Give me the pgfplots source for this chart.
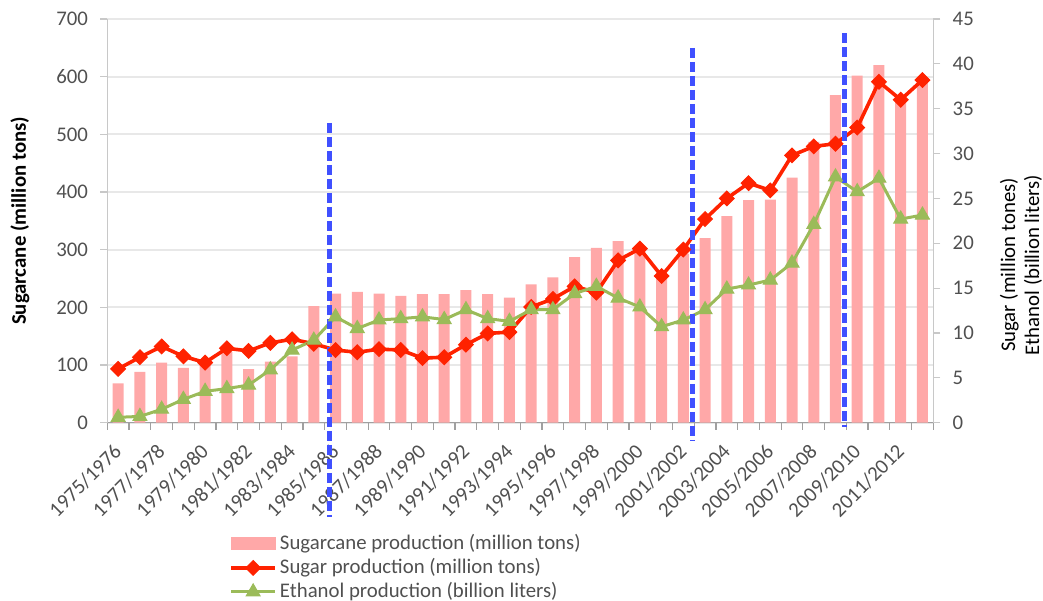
\documentclass[border=0pt]{standalone}
\usepackage{fontspec}
\setmainfont{Carlito}
\usepackage{pgfplots}
\pgfplotsset{compat=1.18}
\usepackage{pgfplotstable}

\definecolor{barpink}{RGB}{255,168,168}
\definecolor{sugarred}{RGB}{255,34,0}
\definecolor{ethgreen}{RGB}{155,187,89}
\definecolor{dashblue}{RGB}{64,80,255}
\definecolor{ticktext}{RGB}{80,80,80}
\definecolor{gridgray}{RGB}{232,232,232}
\definecolor{axisgray}{RGB}{200,200,200}

\pgfplotstableread{
i cane sugar ethanol
0 68 6.0 0.6
1 88 7.3 0.7
2 104 8.5 1.5
3 95 7.4 2.6
4 102 6.7 3.5
5 123 8.3 3.8
6 93 8.0 4.2
7 106 8.9 5.9
8 115 9.3 8.1
9 202 8.8 9.2
10 224 8.1 11.8
11 227 7.85 10.5
12 224 8.2 11.45
13 220 8.1 11.6
14 223 7.2 11.8
15 223 7.3 11.5
16 230 8.7 12.6
17 223 9.95 11.6
18 217 10.1 11.3
19 240 12.9 12.6
20 252 13.8 12.6
21 287 15.2 14.4
22 303 14.5 15.2
23 315 18.1 13.9
24 306 19.4 12.9
25 258 16.35 10.7
26 293 19.3 11.45
27 320 22.7 12.6
28 358 25.0 14.9
29 386 26.7 15.35
30 387 25.9 15.9
31 425 29.8 17.8
32 487 30.8 22.1
33 568 31.1 27.4
34 602 32.9 25.75
35 620 38.0 27.25
36 560 36.0 22.7
37 590 38.2 23.15
}\datatable

\newcommand{\chartfont}{\fontsize{10.4}{12}\selectfont}

\pgfplotsset{
  common/.style={
    at={(53.65pt,88.65pt)}, anchor=south west,
    scale only axis, width=413pt, height=201.85pt,
    xmin=-0.5, xmax=37.5,
    /pgf/number format/assume math mode=true,
    tick label style={font=\chartfont, text=ticktext},
    tick align=outside,
    major tick length=3.5pt, minor tick length=3.5pt,
  },
}

\begin{document}
\begin{tikzpicture}
\useasboundingbox (0pt,0pt) rectangle (521.5pt,300pt);
\begin{axis}[
  common,
  ymin=0, ymax=700,
  axis y line*=left, axis x line*=bottom,
  y axis line style={draw=axisgray, line width=0.6pt},
  x axis line style={draw=axisgray!80!black, line width=0.6pt},
  ytick={0,100,...,700},
  ytick style={draw=axisgray, line width=0.6pt},
  ymajorgrids, grid style={draw=gridgray, line width=0.9pt},
  xtick={0,2,...,36},
  xticklabels={1975/1976,1977/1978,1979/1980,1981/1982,1983/1984,1985/1986,1987/1988,1989/1990,1991/1992,1993/1994,1995/1996,1997/1998,1999/2000,2001/2002,2003/2004,2005/2006,2007/2008,2009/2010,2011/2012},
  minor xtick={-0.5,0.5,...,37.5},
  major x tick style={draw=none},
  minor x tick style={draw=axisgray!80!black, line width=0.6pt},
  xticklabel style={inner sep=0pt, rotate=45, anchor=east},
  xticklabel shift=9pt,
  yticklabel style={inner sep=0pt},
  yticklabel shift=6pt,
  ylabel={\bfseries Sugarcane (million tons)},
  ylabel style={font=\chartfont, at={(axis description cs:-0.1057,0.5)}, anchor=center},
]
\addplot[ybar, bar width=5.5pt, bar shift=0pt, fill=barpink, draw=none] table[x=i, y=cane]{\datatable};
\end{axis}
\begin{axis}[
  common,
  ymin=0, ymax=45,
  axis y line*=right, axis x line=none,
  y axis line style={draw=axisgray, line width=0.6pt},
  ytick={0,5,...,45},
  ytick style={draw=axisgray, line width=0.6pt},
  yticklabel style={inner sep=0pt},
  yticklabel shift=6pt,
  ylabel={Sugar (million tones)\\Ethanol (billion liters)},
  ylabel style={font=\chartfont, align=center, at={(axis description cs:1.1062,0.3906)}, anchor=center},
  clip=false,
  legend image code/.code={\draw[mark repeat=2,mark phase=2,#1] plot coordinates {(0pt,0pt) (11pt,0pt) (22pt,0pt)};},
  legend style={at={(axis description cs:0.1473,-0.2732)}, anchor=north west, draw=none, fill=none,
    font=\chartfont, text=ticktext, inner sep=0pt, row sep=1.5pt, column sep=1.5pt,
    nodes={inner sep=0pt, text height=8pt, text depth=2.5pt}},
  legend cell align=left,
]
\addlegendimage{legend image code/.code={\fill[barpink] (0pt,-3pt) rectangle (22pt,3pt);}}
\addlegendentry{Sugarcane production (million tons)}
\addplot[color=sugarred, line width=1.8pt, mark=square*, mark size=2.6pt, mark options={rotate=45, line width=0.5pt, fill=sugarred}] table[x=i, y=sugar]{\datatable};
\addlegendentry{Sugar production (million tons)}
\addplot[color=ethgreen, line width=1.5pt, mark=triangle*, mark size=4pt, mark options={line width=0.5pt, fill=ethgreen}] table[x=i, y=ethanol]{\datatable};
\addlegendentry{Ethanol production (billion liters)}
\draw[dashblue, line width=2.6pt, dash pattern=on 5pt off 2pt] (axis cs:9.74,33.41) -- (axis cs:9.74,-10.51);
\draw[dashblue, line width=2.6pt, dash pattern=on 5pt off 2pt] (axis cs:26.43,41.77) -- (axis cs:26.43,-1.93);
\draw[dashblue, line width=2.6pt, dash pattern=on 5pt off 2pt] (axis cs:33.40,43.44) -- (axis cs:33.40,-0.48);
\end{axis}
\end{tikzpicture}
\end{document}
